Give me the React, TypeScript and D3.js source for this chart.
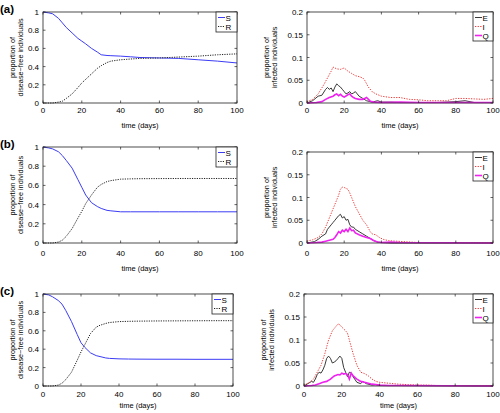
import React from "react";
import * as d3 from "d3";

// ---------- data ----------
const xTicks = [0, 20, 40, 60, 80, 100];
const leftYTicks = [0, 0.2, 0.4, 0.6, 0.8, 1];
const rightYTicks = [0, 0.05, 0.1, 0.15, 0.2];
const panelLabels = ["(a)", "(b)", "(c)"];

// disease-free (smooth) time grid
const tSmooth = [0, 3, 5, 8, 10, 12, 15, 18, 20, 22, 25, 28, 30, 33, 35, 40, 45, 50, 60, 70, 80, 90, 100];
const sA = [1, 0.99, 0.98, 0.93, 0.88, 0.83, 0.77, 0.71, 0.68, 0.65, 0.6, 0.56, 0.53, 0.522, 0.52, 0.515, 0.508, 0.5, 0.495, 0.49, 0.475, 0.46, 0.44];
const rA = [0, 0, 0, 0.01, 0.02, 0.05, 0.1, 0.17, 0.22, 0.26, 0.32, 0.38, 0.41, 0.445, 0.46, 0.475, 0.483, 0.49, 0.495, 0.505, 0.515, 0.53, 0.54];
const sB = [1, 0.99, 0.98, 0.95, 0.91, 0.86, 0.78, 0.66, 0.58, 0.5, 0.42, 0.38, 0.36, 0.34, 0.335, 0.325, 0.325, 0.325, 0.325, 0.325, 0.325, 0.325, 0.325];
const rB = [0, 0, 0, 0.01, 0.03, 0.07, 0.15, 0.26, 0.33, 0.41, 0.5, 0.58, 0.61, 0.64, 0.65, 0.665, 0.668, 0.67, 0.671, 0.672, 0.672, 0.672, 0.672];
const sC = [1, 0.99, 0.97, 0.93, 0.89, 0.82, 0.7, 0.56, 0.47, 0.42, 0.36, 0.33, 0.32, 0.305, 0.3, 0.295, 0.293, 0.292, 0.291, 0.291, 0.29, 0.29, 0.29];
const rC = [0, 0, 0, 0.01, 0.03, 0.07, 0.15, 0.28, 0.37, 0.45, 0.57, 0.64, 0.66, 0.68, 0.69, 0.7, 0.703, 0.705, 0.707, 0.708, 0.709, 0.71, 0.71];

// infected (noisy) series, (a)
const tIa = [0, 3, 6, 9, 11, 13, 14, 16, 18, 20, 22, 24, 26, 28, 30, 31, 33, 35, 37, 40, 45, 50, 55, 60, 65, 70, 75, 78, 80, 85, 90, 95, 100];
const iA = [0.003, 0.008, 0.02, 0.04, 0.055, 0.07, 0.079, 0.075, 0.074, 0.077, 0.07, 0.065, 0.06, 0.058, 0.055, 0.05, 0.035, 0.025, 0.02, 0.015, 0.012, 0.012, 0.008, 0.007, 0.005, 0.005, 0.005, 0.008, 0.01, 0.01, 0.009, 0.008, 0.01];
const tEa = [0, 3, 6, 8, 10, 11, 12, 13, 14, 15, 16, 17, 18, 19, 20, 21, 22, 23, 24, 25, 26, 27, 28, 30, 32, 35, 38, 40, 45, 50, 60, 70, 80, 85, 90, 100];
const eA = [0, 0.005, 0.015, 0.017, 0.03, 0.034, 0.03, 0.033, 0.025, 0.035, 0.042, 0.038, 0.035, 0.03, 0.025, 0.02, 0.022, 0.025, 0.02, 0.022, 0.025, 0.02, 0.015, 0.01, 0.005, 0.002, 0.005, 0.002, 0.002, 0.001, 0.001, 0.001, 0.003, 0.005, 0.001, 0.001];
const tQa = [0, 5, 8, 10, 12, 14, 15, 16, 17, 18, 19, 20, 22, 23, 24, 25, 26, 28, 30, 32, 34, 36, 40, 50, 60, 100];
const qA = [0, 0.001, 0.003, 0.008, 0.012, 0.015, 0.018, 0.02, 0.016, 0.019, 0.015, 0.013, 0.018, 0.02, 0.015, 0.012, 0.01, 0.008, 0.008, 0.012, 0.004, 0.002, 0.001, 0.002, 0.001, 0.001];

// (b)
const tIb = [0, 3, 6, 8, 10, 12, 14, 16, 17, 18, 19, 20, 21, 22, 23, 24, 26, 28, 30, 32, 34, 35, 37, 39, 41, 44, 48, 52, 56, 60, 100];
const iB = [0.004, 0.007, 0.012, 0.02, 0.035, 0.055, 0.075, 0.095, 0.105, 0.118, 0.123, 0.122, 0.12, 0.118, 0.11, 0.1, 0.08, 0.065, 0.05, 0.04, 0.025, 0.02, 0.018, 0.012, 0.008, 0.005, 0.004, 0.003, 0.002, 0.001, 0.001];
const tEb = [0, 4, 6, 8, 10, 11, 12, 13, 14, 15, 16, 17, 18, 19, 20, 21, 22, 23, 24, 25, 26, 28, 30, 32, 34, 36, 38, 40, 45, 100];
const eB = [0, 0.003, 0.008, 0.015, 0.02, 0.03, 0.035, 0.04, 0.045, 0.05, 0.055, 0.06, 0.063, 0.055, 0.058, 0.05, 0.052, 0.04, 0.035, 0.035, 0.03, 0.025, 0.02, 0.015, 0.01, 0.005, 0.002, 0.001, 0, 0];
const tQb = [0, 5, 8, 10, 12, 14, 15, 16, 17, 18, 19, 20, 21, 22, 23, 24, 25, 26, 28, 30, 32, 34, 36, 38, 40, 45, 50, 100];
const qB = [0, 0.001, 0.002, 0.004, 0.006, 0.008, 0.012, 0.018, 0.025, 0.022, 0.028, 0.025, 0.03, 0.025, 0.033, 0.027, 0.028, 0.022, 0.018, 0.015, 0.012, 0.01, 0.005, 0.002, 0.001, 0.002, 0.001, 0];

// (c)
const tIc = [0, 3, 5, 7, 9, 11, 13, 15, 17, 18, 19, 20, 22, 23, 24, 26, 28, 30, 32, 34, 36, 38, 40, 45, 50, 55, 60, 65, 70, 100];
const iC = [0.002, 0.008, 0.015, 0.03, 0.045, 0.07, 0.1, 0.12, 0.13, 0.135, 0.133, 0.128, 0.12, 0.115, 0.1, 0.07, 0.045, 0.03, 0.027, 0.022, 0.015, 0.01, 0.008, 0.006, 0.004, 0.003, 0.002, 0.002, 0.001, 0.001];
const tEc = [0, 2, 4, 5, 6, 7, 8, 9, 10, 11, 12, 13, 14, 15, 16, 17, 18, 19, 20, 21, 22, 23, 24, 25, 26, 28, 30, 31, 33, 36, 38, 40, 50, 100];
const eC = [0, 0.005, 0.01, 0.008, 0.015, 0.025, 0.03, 0.028, 0.035, 0.045, 0.06, 0.065, 0.06, 0.05, 0.052, 0.055, 0.06, 0.065, 0.06, 0.04, 0.03, 0.02, 0.03, 0.028, 0.02, 0.008, 0.005, 0.01, 0.005, 0.002, 0.003, 0.001, 0.001, 0];
const tQc = [0, 4, 6, 8, 10, 12, 14, 16, 18, 19, 20, 21, 22, 23, 24, 25, 26, 28, 30, 32, 34, 36, 38, 40, 45, 50, 100];
const qC = [0, 0.001, 0.002, 0.005, 0.008, 0.01, 0.015, 0.022, 0.025, 0.024, 0.028, 0.026, 0.027, 0.025, 0.015, 0.028, 0.022, 0.015, 0.01, 0.008, 0.006, 0.004, 0.003, 0.002, 0.001, 0.001, 0];

// ---------- styles ----------
const FONT = "'Liberation Sans', Arial, sans-serif";
const BLUE = "#3c3cf5";
const RED = "#f03c3c";
const MAG = "#ee22ee";

type Series = { t: number[]; v: number[]; color: string; width: number; dash?: string; name: string };

type PanelProps = {
  box: [number, number, number, number]; // x0,x1,y0,y1
  yMax: number;
  yTicks: number[];
  series: Series[];
  yLabel: [string, string];
  yLabelX: [number, number];
  legendW: number;
  label?: string;
  xLabelY: number;
  tickLabelY: number;
};

function Panel(p: PanelProps) {
  const [x0, x1, y0, y1] = p.box;
  const x = d3.scaleLinear().domain([0, 100]).range([x0, x1]);
  const y = d3.scaleLinear().domain([0, p.yMax]).range([y1, y0]);
  const line = d3.line<[number, number]>().x((d) => x(d[0])).y((d) => y(d[1]));
  const midY = (y0 + y1) / 2;
  const legH = p.series.length * 9 + 2;
  const lx0 = x1 - p.legendW;
  return (
    <g>
      {p.label && (
        <text x={0} y={y0 + 1} fontFamily={FONT} fontWeight="bold" fontSize={11.5}>
          {p.label}
        </text>
      )}
      <rect x={x0} y={y0} width={x1 - x0} height={y1 - y0} fill="white" stroke="none" />
      {p.series.map((s, i) => (
        <path
          key={i}
          d={line(s.t.map((t, j) => [t, s.v[j]]) as [number, number][]) || ""}
          fill="none"
          stroke={s.color}
          strokeWidth={s.width}
          strokeDasharray={s.dash}
        />
      ))}
      <rect x={x0} y={y0} width={x1 - x0} height={y1 - y0} fill="none" stroke="#222" strokeWidth={0.8} />
      {xTicks.map((t) => (
        <g key={"x" + t}>
          <line x1={x(t)} x2={x(t)} y1={y1} y2={y1 - 2.5} stroke="#222" strokeWidth={0.7} />
          <line x1={x(t)} x2={x(t)} y1={y0} y2={y0 + 2.5} stroke="#222" strokeWidth={0.7} />
          <text x={x(t)} y={p.tickLabelY} textAnchor="middle" fontFamily={FONT} fontSize={8}>
            {t}
          </text>
        </g>
      ))}
      {p.yTicks.map((t) => (
        <g key={"y" + t}>
          <line x1={x0} x2={x0 + 2.5} y1={y(t)} y2={y(t)} stroke="#222" strokeWidth={0.7} />
          <line x1={x1} x2={x1 - 2.5} y1={y(t)} y2={y(t)} stroke="#222" strokeWidth={0.7} />
          <text x={x0 - 4} y={y(t) + 3} textAnchor="end" fontFamily={FONT} fontSize={8}>
            {String(t)}
          </text>
        </g>
      ))}
      <text x={(x0 + x1) / 2} y={p.xLabelY} textAnchor="middle" fontFamily={FONT} fontSize={7.5}>
        time (days)
      </text>
      {p.yLabel.map((l, i) => (
        <text
          key={i}
          transform={`translate(${p.yLabelX[i]},${midY}) rotate(-90)`}
          textAnchor="middle"
          fontFamily={FONT}
          fontSize={7.3}
        >
          {l}
        </text>
      ))}
      <rect x={lx0} y={y0} width={p.legendW} height={legH} fill="white" stroke="#222" strokeWidth={0.8} />
      {p.series.map((s, i) => (
        <g key={"l" + i}>
          <line
            x1={lx0 + 2}
            x2={lx0 + 9}
            y1={y0 + 5.5 + i * 9}
            y2={y0 + 5.5 + i * 9}
            stroke={s.color}
            strokeWidth={s.width}
            strokeDasharray={s.dash}
          />
          <text x={lx0 + 9.5} y={y0 + 8.5 + i * 9} fontFamily={FONT} fontSize={8}>
            {s.name}
          </text>
        </g>
      ))}
    </g>
  );
}

const leftLabel: [string, string] = ["proportion of", "disease\u2212free individuals"];
const rightLabel: [string, string] = ["proportion of", "infected individuals"];

export default function App() {
  const sr = (s: number[], r: number[]): Series[] => [
    { t: tSmooth, v: s, color: BLUE, width: 1, name: "S" },
    { t: tSmooth, v: r, color: "#222", width: 1, dash: "1.2,1.2", name: "R" },
  ];
  const eiq = (te: number[], e: number[], ti: number[], i: number[], tq: number[], q: number[]): Series[] => [
    { t: te, v: e, color: "#222", width: 0.9, name: "E" },
    { t: ti, v: i, color: RED, width: 1, dash: "1.3,1.3", name: "I" },
    { t: tq, v: q, color: MAG, width: 1.6, name: "Q" },
  ];
  return (
    <svg width={500} height={413} style={{ position: "absolute", left: 0, top: 0, background: "white" }}>
      <rect width={500} height={413} fill="white" />
      <Panel box={[43, 237, 12, 103]} yMax={1} yTicks={leftYTicks} series={sr(sA, rA)}
        yLabel={leftLabel} yLabelX={[15, 23]} legendW={21} label={panelLabels[0]} xLabelY={128} tickLabelY={113} />
      <Panel box={[307, 493, 12, 103]} yMax={0.2} yTicks={rightYTicks} series={eiq(tEa, eA, tIa, iA, tQa, qA)}
        yLabel={rightLabel} yLabelX={[269, 277]} legendW={20} xLabelY={128} tickLabelY={113} />
      <Panel box={[43, 237, 147, 243]} yMax={1} yTicks={leftYTicks} series={sr(sB, rB)}
        yLabel={leftLabel} yLabelX={[15, 23]} legendW={21} label={panelLabels[1]} xLabelY={271} tickLabelY={256} />
      <Panel box={[307, 493, 152, 243]} yMax={0.2} yTicks={rightYTicks} series={eiq(tEb, eB, tIb, iB, tQb, qB)}
        yLabel={rightLabel} yLabelX={[269, 277]} legendW={20} xLabelY={271} tickLabelY={256} />
      <Panel box={[43, 233, 294, 386]} yMax={1} yTicks={leftYTicks} series={sr(sC, rC)}
        yLabel={leftLabel} yLabelX={[15, 23]} legendW={21} label={panelLabels[2]} xLabelY={408} tickLabelY={397} />
      <Panel box={[304, 493, 294, 386]} yMax={0.2} yTicks={rightYTicks} series={eiq(tEc, eC, tIc, iC, tQc, qC)}
        yLabel={rightLabel} yLabelX={[266, 274]} legendW={20} xLabelY={408} tickLabelY={397} />
    </svg>
  );
}
